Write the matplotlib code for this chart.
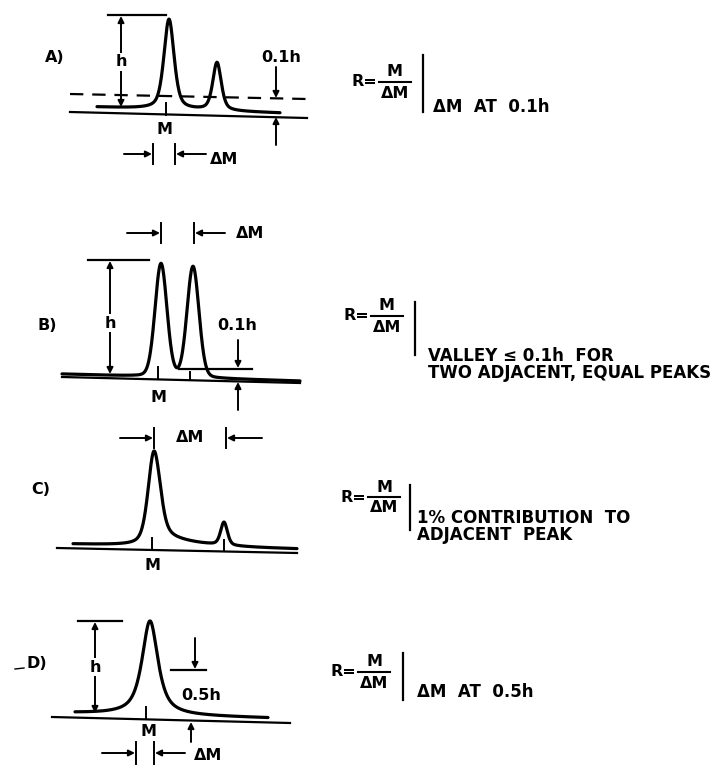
import numpy as np
import matplotlib
matplotlib.use('Agg')
import matplotlib.pyplot as plt

plt.rcParams['font.family'] = ['DejaVu Sans']
plt.rcParams['font.weight'] = 'bold'

# ---- peak data (mass position, height above baseline, width, lorentz fraction) ----
A_centers = [169, 217]
A_heights = [90, 48]
A_fwhm = [12, 10]
A_eta = [0.5, 0.5]

B_centers = [161, 193]
B_heights = [113, 111]
B_fwhm = [14, 14]
B_eta = [0.12, 0.12]

C_centers = [154, 224]
C_heights = [94, 23]
C_fwhm = [14, 8]
C_eta = [0.45, 0.4]
C_tail_amp = 12
C_tail_len = 38

D_centers = [150]
D_heights = [94]
D_fwhm = [19]
D_eta = [0.8]

# baselines of traces (x0, y0, x1, y1) and axis lines
A_trace_base = (97, 107, 280, 113)
B_trace_base = (62, 374, 300, 381)
C_trace_base = (73, 544, 297, 549)
D_trace_base = (75, 713, 268, 718)

A_axis = (70, 112, 307, 118)
B_axis = (62, 377, 300, 383)
C_axis = (57, 548, 297, 553)
D_axis = (52, 717, 290, 723)

fig = plt.figure(figsize=(7.27, 7.67), dpi=100)
ax = fig.add_axes([0, 0, 1, 1])
ax.set_xlim(0, 727)
ax.set_ylim(767, 0)
ax.axis('off')

K = 'black'
FS = 11.5
FT = 12


def pv(x, c, h, fwhm, eta):
    u = (x - c) / (fwhm / 2.0)
    return h * (eta / (1 + u ** 2) + (1 - eta) * np.exp(-np.log(2) * u ** 2))


def trace(base, centers, heights, fwhms, etas, tail=None):
    x0, y0, x1, y1 = base
    x = np.linspace(x0, x1, 800)
    yb = y0 + (y1 - y0) * (x - x0) / (x1 - x0)
    s = np.zeros_like(x)
    for c, h, w, e in zip(centers, heights, fwhms, etas):
        s += pv(x, c, h, w, e)
    if tail is not None:
        c, a, L = tail
        d = x - c
        s += a * np.exp(-np.clip(d, 0, None) / L) / (1 + np.exp(-(d - 4) / 1.5))
    ax.plot(x, yb - s, color=K, lw=2.3, solid_capstyle='round')


def line(x0, y0, x1, y1, lw=1.6, **kw):
    ax.plot([x0, x1], [y0, y1], color=K, lw=lw, **kw)


def arrow(x0, y0, x1, y1, style='-|>'):
    ax.annotate('', xy=(x1, y1), xytext=(x0, y0),
                arrowprops=dict(arrowstyle=style, color=K, lw=1.4,
                                mutation_scale=9, shrinkA=0, shrinkB=0))


def txt(x, y, s, ha='center', va='center', size=FS, bg=False):
    kw = {}
    if bg:
        kw['bbox'] = dict(facecolor='white', edgecolor='none', pad=1.0)
    ax.text(x, y, s, ha=ha, va=va, fontsize=size, fontweight='bold', color=K, **kw)


def delta_marks(y, xl_from, xl_bar, xr_bar, xr_from, half=10):
    arrow(xl_from, y, xl_bar - 1, y)
    line(xl_bar, y - half, xl_bar, y + half, lw=1.4)
    arrow(xr_from, y, xr_bar + 1, y)
    line(xr_bar, y - half, xr_bar, y + half, lw=1.4)


def formula(xr, y, xbar, ybar0, ybar1, lines, xt, yt):
    txt(xr, y, 'R=', ha='right', size=FS)
    xf = xr + 18
    txt(xf, y - 10, 'M', size=FS)
    txt(xf, y + 11, 'ΔM', size=FS)
    line(xf - 16, y, xf + 16, y, lw=1.5)
    line(xbar, ybar0, xbar, ybar1, lw=1.6)
    for i, s in enumerate(lines):
        txt(xt, yt + i * 17, s, ha='left', size=FT)


# ================= A =================
line(*A_axis)
trace(A_trace_base, A_centers, A_heights, A_fwhm, A_eta)
ax.plot([70, 307], [94, 99], color=K, lw=1.6, dashes=(6, 4))
line(108, 15, 166, 15)
arrow(121, 62, 121, 16)
arrow(121, 62, 121, 107)
txt(121, 62, 'h', bg=True)
txt(55, 58, 'A)')
txt(281, 57, '0.1h')
arrow(276, 67, 276, 98)
arrow(276, 145, 276, 117)
line(166, 103, 166, 115, lw=1.4)
txt(165, 130, 'M')
delta_marks(154, 124, 153, 175, 206)
txt(210, 160, 'ΔM', ha='left')
formula(377, 82, 423, 55, 112, ['ΔM  AT  0.1h'], 433, 107)

# ================= B =================
line(*B_axis)
trace(B_trace_base, B_centers, B_heights, B_fwhm, B_eta)
line(88, 260, 149, 260)
arrow(110, 322, 110, 261)
arrow(110, 322, 110, 374)
txt(110, 323, 'h', bg=True)
txt(47, 325, 'B)')
txt(237, 325, '0.1h')
line(179, 369, 252, 369)
arrow(238, 340, 238, 368)
arrow(238, 410, 238, 382)
line(158, 367, 158, 379, lw=1.4)
line(190, 372, 190, 379, lw=1.4)
txt(158, 398, 'M')
delta_marks(233, 127, 161, 194, 225)
txt(236, 233, 'ΔM', ha='left')
formula(369, 316, 415, 302, 355,
        ['VALLEY ≤ 0.1h  FOR', 'TWO ADJACENT, EQUAL PEAKS'], 428, 356)

# ================= C =================
line(*C_axis)
trace(C_trace_base, C_centers, C_heights, C_fwhm, C_eta,
      tail=(C_centers[0], C_tail_amp, C_tail_len))
line(152, 538, 152, 549, lw=1.4)
line(224, 540, 224, 550, lw=1.4)
txt(152, 565, 'M')
txt(41, 490, 'C)')
delta_marks(438, 120, 154, 226, 262)
txt(190, 437, 'ΔM')
formula(366, 497, 410, 485, 530,
        ['1% CONTRIBUTION  TO', 'ADJACENT  PEAK'], 417, 518)

# ================= D =================
line(*D_axis)
trace(D_trace_base, D_centers, D_heights, D_fwhm, D_eta)
line(78, 621, 122, 621)
arrow(95, 667, 95, 622)
arrow(95, 667, 95, 713)
txt(95, 667, 'h', bg=True)
line(15, 669, 24, 668, lw=1.0)
txt(37, 663, 'D)')
line(171, 670, 206, 670)
arrow(195, 638, 195, 669)
txt(201, 695, '0.5h')
arrow(191, 742, 191, 722)
line(146, 707, 146, 718, lw=1.4)
txt(148, 732, 'M')
delta_marks(753, 102, 136, 154, 185, half=11)
txt(194, 755, 'ΔM', ha='left')
formula(356, 672, 403, 653, 700, ['ΔM  AT  0.5h'], 417, 692)

fig.savefig('out.png', dpi=100, facecolor='white')
